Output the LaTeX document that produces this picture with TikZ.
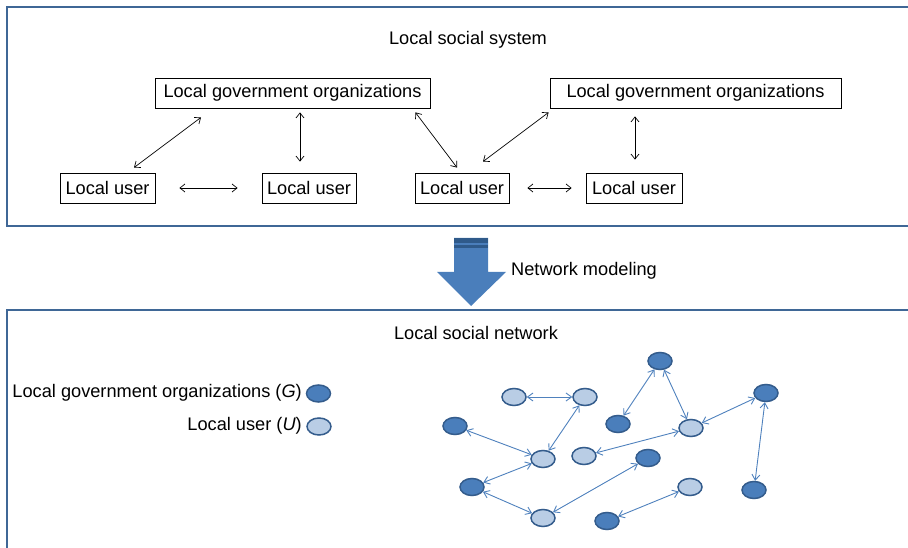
\documentclass[tikz,border=0pt]{standalone}
\usepackage{fontspec}
\setmainfont{Liberation Sans}
\usetikzlibrary{arrows.meta,shapes.geometric}
\definecolor{frameblue}{HTML}{3F6796}
\definecolor{gfill}{HTML}{4A7EBB}
\definecolor{ufill}{HTML}{B9CDE5}
\definecolor{nodeline}{HTML}{345C8C}
\definecolor{edgeblue}{HTML}{4F81BD}
\definecolor{stripe}{HTML}{2F5A8A}

\begin{document}
\begin{tikzpicture}[x=1pt,y=-1pt,
	txt/.style={font=\fontsize{18.2}{21}\selectfont,inner sep=0pt},
	box/.style={txt,draw=black,line width=0.8pt,minimum height=30pt},
	link/.style={{Straight Barb[length=5pt,width=8pt]}-{Straight Barb[length=5pt,width=8pt]},line width=0.7pt},
	gnode/.style={ellipse,draw=nodeline,line width=1.5pt,fill=gfill,minimum width=24pt,minimum height=17pt,inner sep=0pt},
	unode/.style={gnode,fill=ufill},
	edge/.style={{Straight Barb[length=5.5pt,width=8pt]}-{Straight Barb[length=5.5pt,width=8pt]},draw=edgeblue,line width=0.9pt}]

			\useasboundingbox (0,0) rectangle (908,548);

			% frames
			\draw[frameblue,line width=2pt] (910,7) -- (7,7) -- (7,226) -- (910,226);
			\draw[frameblue,line width=2pt] (910,310) -- (7,310) -- (7,550);

			% local social system
			\node[txt] (sys) at (468,40) {Local social system};
			\node[box,minimum width=275pt] (lgoa) at (292.5,93) {Local government organizations};
			\node[box,minimum width=291pt] (lgob) at (695.5,93) {Local government organizations};
			\node[box,minimum width=95pt] (lua) at (107.5,188) {Local user};
			\node[box,minimum width=94pt] (lub) at (309,188) {Local user};
			\node[box,minimum width=94pt] (luc) at (462,188) {Local user};
			\node[box,minimum width=96pt] (lud) at (634,188) {Local user};

			\draw[link] ([xshift=26.5pt,yshift=5pt]lua.north) -- ([xshift=-91.5pt,yshift=-9pt]lgoa.south);
			\draw[link] ([xshift=7.5pt,yshift=-4pt]lgoa.south) -- ([xshift=-9pt,yshift=11pt]lub.north);
			\draw[link] ([xshift=24pt]lua.east) -- ([xshift=-24pt]lub.west);
			\draw[link] ([xshift=-15pt,yshift=-4pt]lgoa.south east) -- ([xshift=-5pt,yshift=5pt]luc.north);
			\draw[link] ([xshift=21pt,yshift=11pt]luc.north) -- ([xshift=-1pt,yshift=-4pt]lgob.south west);
			\draw[link] ([xshift=-60.5pt,yshift=-8pt]lgob.south) -- ([xshift=1pt,yshift=13pt]lud.north);
			\draw[link] ([xshift=18pt]luc.east) -- ([xshift=-14pt]lud.west);

			% network modeling arrow
			\fill[gfill] (454,238) -- (488,238) -- (488,272) -- (506,272) -- (471,306) -- (437,272) -- (454,272) -- cycle;
			\fill[stripe] (454,238) rectangle (488,243);
			\fill[stripe] (454,245) rectangle (488,248);
			\node[txt,anchor=west] (model) at (511,271) {Network modeling};

			% local social network
			\node[txt] (net) at (476,333) {Local social network};
			\node[gnode] (keyg) at (318.5,393.5) {};
			\node[unode] (keyu) at (319,426.5) {};
			\node[txt,anchor=east] at (302,393) {Local government organizations (\textit{G})};
			\node[txt,anchor=east] at (302,426) {Local user (\textit{U})};

			\node[unode] (a) at (514,397) {};
			\node[unode] (b) at (585,397) {};
			\node[gnode] (c) at (455,426) {};
			\node[unode] (d) at (543,459) {};
			\node[gnode] (e) at (472,487) {};
			\node[unode] (f) at (543,518) {};
			\node[unode] (g) at (584,456) {};
			\node[gnode] (h) at (618,424) {};
			\node[gnode] (i) at (660,361) {};
			\node[gnode] (j) at (648,458) {};
			\node[gnode] (k) at (607,521) {};
			\node[unode] (l) at (691,428) {};
			\node[gnode] (m) at (766,393) {};
			\node[unode] (n) at (690,487) {};
			\node[gnode] (o) at (754,490) {};

			\draw[edge] (a) -- (b);
			\draw[edge] (b) -- (d);
			\draw[edge] (c) -- (d);
			\draw[edge] (d) -- (e);
			\draw[edge] (e) -- (f);
			\draw[edge] (f) -- (j);
			\draw[edge] (g) -- (l);
			\draw[edge] (i) -- (h);
			\draw[edge] (i) -- (l);
			\draw[edge] (l) -- (m);
			\draw[edge] (m) -- (o);
			\draw[edge] (k) -- (n);

		\end{tikzpicture}
\end{document}
